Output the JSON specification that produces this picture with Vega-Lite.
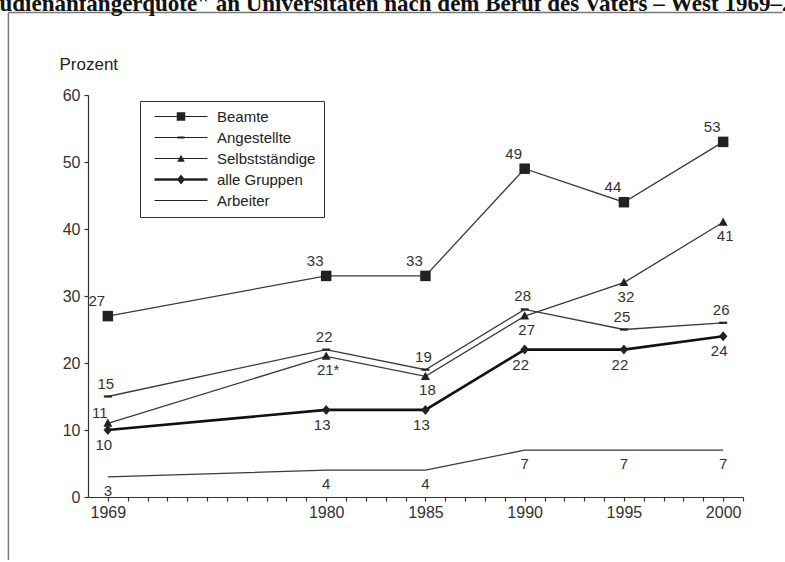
{
  "$schema": "https://vega.github.io/schema/vega-lite/v6.json",
  "autosize": {"type": "none"},
  "width": 655,
  "height": 402,
  "padding": {"left": 88, "top": 95, "right": 42, "bottom": 65},
  "background": "white",
  "title": {
    "text": "Studienanfängerquote\" an Universitäten nach dem Beruf des Vaters – West 1969–2000",
    "anchor": "start",
    "frame": "group",
    "font": "Liberation Serif",
    "fontSize": 23,
    "fontWeight": "bold",
    "color": "#111",
    "baseline": "alphabetic",
    "offset": -22,
    "dx": -109
  },
  "config": {
    "view": {"stroke": null},
    "font": "Liberation Sans",
    "axis": {"grid": false, "domainColor": "#333", "tickColor": "#333", "labelColor": "#333", "labelFont": "Liberation Sans", "labelFontSize": 16, "tickSize": 4, "domainWidth": 1.2, "tickWidth": 1.2, "labelOverlap": false},
    "axisX": {"labelOverlap": false, "labelFlush": false, "labelPadding": 3}
  },
  "datasets": {
    "rates": [
      {"series": "Beamte", "year": 1969, "value": 27, "label": "27"},
      {"series": "Beamte", "year": 1980, "value": 33, "label": "33"},
      {"series": "Beamte", "year": 1985, "value": 33, "label": "33"},
      {"series": "Beamte", "year": 1990, "value": 49, "label": "49"},
      {"series": "Beamte", "year": 1995, "value": 44, "label": "44"},
      {"series": "Beamte", "year": 2000, "value": 53, "label": "53"},
      {"series": "Angestellte", "year": 1969, "value": 15, "label": "15"},
      {"series": "Angestellte", "year": 1980, "value": 22, "label": "22"},
      {"series": "Angestellte", "year": 1985, "value": 19, "label": "19"},
      {"series": "Angestellte", "year": 1990, "value": 28, "label": "28"},
      {"series": "Angestellte", "year": 1995, "value": 25, "label": "25"},
      {"series": "Angestellte", "year": 2000, "value": 26, "label": "26"},
      {"series": "Selbstständige", "year": 1969, "value": 11, "label": "11"},
      {"series": "Selbstständige", "year": 1980, "value": 21, "label": "21*"},
      {"series": "Selbstständige", "year": 1985, "value": 18, "label": "18"},
      {"series": "Selbstständige", "year": 1990, "value": 27, "label": "27"},
      {"series": "Selbstständige", "year": 1995, "value": 32, "label": "32"},
      {"series": "Selbstständige", "year": 2000, "value": 41, "label": "41"},
      {"series": "alle Gruppen", "year": 1969, "value": 10, "label": "10"},
      {"series": "alle Gruppen", "year": 1980, "value": 13, "label": "13"},
      {"series": "alle Gruppen", "year": 1985, "value": 13, "label": "13"},
      {"series": "alle Gruppen", "year": 1990, "value": 22, "label": "22"},
      {"series": "alle Gruppen", "year": 1995, "value": 22, "label": "22"},
      {"series": "alle Gruppen", "year": 2000, "value": 24, "label": "24"},
      {"series": "Arbeiter", "year": 1969, "value": 3, "label": "3"},
      {"series": "Arbeiter", "year": 1980, "value": 4, "label": "4"},
      {"series": "Arbeiter", "year": 1985, "value": 4, "label": "4"},
      {"series": "Arbeiter", "year": 1990, "value": 7, "label": "7"},
      {"series": "Arbeiter", "year": 1995, "value": 7, "label": "7"},
      {"series": "Arbeiter", "year": 2000, "value": 7, "label": "7"}
    ]
  },
  "layer": [
    {
      "data": {"values": [{"frame": "left"}]},
      "mark": {"type": "rule", "stroke": "#777", "strokeWidth": 1.5, "clip": false},
      "encoding": {
        "x": {
          "datum": 1963.99, "type": "quantitative",
          "scale": {"domain": [1968, 2001], "nice": false, "zero": false},
          "axis": {
            "title": null,
            "values": [1969,1970,1971,1972,1973,1974,1975,1976,1977,1978,1979,1980,1981,1982,1983,1984,1985,1986,1987,1988,1989,1990,1991,1992,1993,1994,1995,1996,1997,1998,1999,2000,2001],
            "format": "d",
            "labelExpr": "indexof([1969,1980,1985,1990,1995,2000], datum.value) >= 0 ? datum.label : ''",
            "labelOverlap": false,
            "labelFlush": false,
            "labelPadding": 3
          }
        },
        "y": {
          "datum": 72.3, "type": "quantitative",
          "scale": {"domain": [0, 60], "nice": false},
          "axis": {
            "values": [0, 10, 20, 30, 40, 50, 60],
            "title": "Prozent",
            "titleAngle": 0,
            "titleAlign": "left",
            "titleBaseline": "alphabetic",
            "titleX": -29,
            "titleY": -26,
            "titleFont": "Liberation Sans",
            "titleFontSize": 17,
            "titleFontWeight": "normal",
            "titleColor": "#222",
            "labelPadding": 4,
            "labelOverlap": false
          }
        },
        "y2": {"datum": -9.4}
      }
    },
    {
      "data": {"values": [{"frame": "top"}]},
      "mark": {"type": "rule", "stroke": "#777", "strokeWidth": 1.5, "clip": false},
      "encoding": {
        "x": {
          "datum": 1963.99, "type": "quantitative",
          "scale": {"domain": [1968, 2001], "nice": false, "zero": false},
          "axis": {
            "title": null,
            "values": [1969,1970,1971,1972,1973,1974,1975,1976,1977,1978,1979,1980,1981,1982,1983,1984,1985,1986,1987,1988,1989,1990,1991,1992,1993,1994,1995,1996,1997,1998,1999,2000,2001],
            "format": "d",
            "labelExpr": "indexof([1969,1980,1985,1990,1995,2000], datum.value) >= 0 ? datum.label : ''",
            "labelOverlap": false,
            "labelFlush": false,
            "labelPadding": 3
          }
        },
        "x2": {"datum": 2003.0},
        "y": {
          "datum": 72.3, "type": "quantitative",
          "scale": {"domain": [0, 60], "nice": false},
          "axis": {
            "values": [0, 10, 20, 30, 40, 50, 60],
            "title": "Prozent",
            "titleAngle": 0,
            "titleAlign": "left",
            "titleBaseline": "alphabetic",
            "titleX": -29,
            "titleY": -26,
            "titleFont": "Liberation Sans",
            "titleFontSize": 17,
            "titleFontWeight": "normal",
            "titleColor": "#222",
            "labelPadding": 4,
            "labelOverlap": false
          }
        }
      }
    },
    {
      "data": {"name": "rates"},
      "encoding": {
        "x": {
          "field": "year", "type": "quantitative",
          "scale": {"domain": [1968, 2001], "nice": false, "zero": false},
          "axis": {
            "title": null,
            "values": [1969,1970,1971,1972,1973,1974,1975,1976,1977,1978,1979,1980,1981,1982,1983,1984,1985,1986,1987,1988,1989,1990,1991,1992,1993,1994,1995,1996,1997,1998,1999,2000,2001],
            "format": "d",
            "labelExpr": "indexof([1969,1980,1985,1990,1995,2000], datum.value) >= 0 ? datum.label : ''",
            "labelOverlap": false,
            "labelFlush": false,
            "labelPadding": 3
          }
        },
        "y": {
          "field": "value", "type": "quantitative",
          "scale": {"domain": [0, 60], "nice": false},
          "axis": {
            "values": [0, 10, 20, 30, 40, 50, 60],
            "title": "Prozent",
            "titleAngle": 0,
            "titleAlign": "left",
            "titleBaseline": "alphabetic",
            "titleX": -29,
            "titleY": -26,
            "titleFont": "Liberation Sans",
            "titleFontSize": 17,
            "titleFontWeight": "normal",
            "titleColor": "#222",
            "labelPadding": 4,
            "labelOverlap": false
          }
        }
      },
      "layer": [
        {
          "transform": [{"filter": "datum.series !== 'alle Gruppen'"}],
          "mark": {"type": "line", "stroke": "#3a3a3a", "strokeWidth": 1.3},
          "encoding": {"detail": {"field": "series"}}
        },
        {
          "transform": [{"filter": "datum.series === 'alle Gruppen'"}],
          "mark": {"type": "line", "stroke": "#111", "strokeWidth": 2.6},
          "encoding": {"detail": {"field": "series"}}
        },
        {
          "transform": [{"filter": "datum.series !== 'Arbeiter'"}],
          "mark": {"type": "point", "filled": true, "fill": "#222", "opacity": 1, "size": 100, "strokeWidth": 0},
          "encoding": {
            "shape": {
              "field": "series", "type": "nominal", "legend": null,
              "scale": {
                "domain": ["Beamte", "Angestellte", "Selbstständige", "alle Gruppen"],
                "range": [
                  "M-1.05,-1.05H1.05V1.05H-1.05Z",
                  "M-0.8,-0.22H0.8V0.22H-0.8Z",
                  "M0,-0.95L0.9,0.7H-0.9Z",
                  "M0,-1L0.85,0L0,1L-0.85,0Z"
                ]
              }
            }
          }
        },
        {
          "mark": {"type": "point", "filled": true, "fill": "#222", "opacity": 0, "strokeWidth": 0},
          "encoding": {
            "shape": {
              "field": "series", "type": "nominal",
              "scale": {
                "domain": ["Beamte", "Angestellte", "Selbstständige", "alle Gruppen", "Arbeiter"],
                "range": [
                  "M-1,-0.1H9.6V0.1H-1Z M3.45,-0.85H5.15V0.85H3.45Z",
                  "M-1,-0.1H9.6V0.1H-1Z M3.6,-0.22H5V0.22H3.6Z",
                  "M-1,-0.1H9.6V0.1H-1Z M4.3,-0.75L5.05,0.65H3.55Z",
                  "M-1,-0.25H9.6V0.25H-1Z M4.3,-1L5.1,0L4.3,1L3.5,0Z",
                  "M-1,-0.1H9.6V0.1H-1Z"
                ]
              },
              "legend": {
                "title": null,
                "orient": "none",
                "legendX": 52,
                "legendY": 6,
                "padding": 8,
                "rowPadding": 5,
                "strokeColor": "#333",
                "fillColor": "white",
                "symbolSize": 100,
                "symbolOpacity": 1,
                "symbolFillColor": "#222",
                "symbolStrokeWidth": 0,
                "symbolOffset": 4,
                "labelOffset": 50,
                "labelFont": "Liberation Sans",
                "labelFontSize": 15,
                "labelColor": "#222",
                "labelLimit": 300,
                "encode": {
                  "legend": {"update": {"strokeWidth": {"value": 1.2}}},
                  "labels": {"update": {"fontWeight": {"signal": "datum.label === 'alle Gruppen' ? 'bold' : 'normal'"}}}
                }
              }
            }
          }
        },
        {
          "transform": [{"filter": "datum.series === 'Beamte'"}],
          "mark": {"type": "text", "dx": -11, "dy": -15, "fontSize": 15, "fill": "#333", "baseline": "middle"},
          "encoding": {"text": {"field": "label"}}
        },
        {
          "transform": [{"filter": "datum.series === 'Angestellte'"}],
          "mark": {"type": "text", "dx": -2, "dy": -13, "fontSize": 15, "fill": "#333", "baseline": "middle"},
          "encoding": {"text": {"field": "label"}}
        },
        {
          "transform": [{"filter": "datum.series === 'Selbstständige' && datum.year === 1969"}],
          "mark": {"type": "text", "dx": -8, "dy": -10, "fontSize": 15, "fill": "#333", "baseline": "middle"},
          "encoding": {"text": {"field": "label"}}
        },
        {
          "transform": [{"filter": "datum.series === 'Selbstständige' && datum.year !== 1969"}],
          "mark": {"type": "text", "dx": 2, "dy": 14, "fontSize": 15, "fill": "#333", "baseline": "middle"},
          "encoding": {"text": {"field": "label"}}
        },
        {
          "transform": [{"filter": "datum.series === 'alle Gruppen'"}],
          "mark": {"type": "text", "dx": -4, "dy": 15, "fontSize": 15, "fill": "#333", "baseline": "middle"},
          "encoding": {"text": {"field": "label"}}
        },
        {
          "transform": [{"filter": "datum.series === 'Arbeiter'"}],
          "mark": {"type": "text", "dx": 0, "dy": 14, "fontSize": 15, "fill": "#333", "baseline": "middle"},
          "encoding": {"text": {"field": "label"}}
        }
      ],
      "resolve": {"scale": {"shape": "independent"}, "legend": {"shape": "independent"}}
    }
  ]
}
